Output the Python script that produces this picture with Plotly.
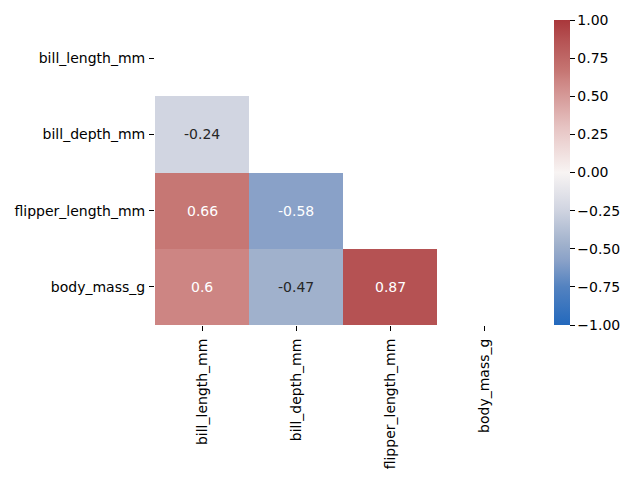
import plotly.graph_objects as go

labels = ["bill_length_mm", "bill_depth_mm", "flipper_length_mm", "body_mass_g"]
corr = [
    [None, None, None, None],
    [-0.24, None, None, None],
    [0.66, -0.58, None, None],
    [0.60, -0.47, 0.87, None],
]
cell_text = [
    [None, None, None, None],
    ["-0.24", None, None, None],
    ["0.66", "-0.58", None, None],
    ["0.6", "-0.47", "0.87", None],
]
cbar_vals = [-1, -0.75, -0.5, -0.25, 0, 0.25, 0.5, 0.75, 1]
cbar_text = ["\u22121.00", "\u22120.75", "\u22120.50", "\u22120.25", "0.00", "0.25", "0.50", "0.75", "1.00"]

colorscale = [
    [0.0, "#2369bd"],
    [0.125, "#5382c0"],
    [0.21, "#89a1c8"],
    [0.265, "#a0b1cc"],
    [0.38, "#d1d5e1"],
    [0.5, "#f8f4f3"],
    [0.65, "#e6c3c2"],
    [0.8, "#cd8583"],
    [0.83, "#c67774"],
    [0.935, "#b55253"],
    [1.0, "#a9373b"],
]

FONT = "DejaVu Sans"
FS = 14
fig = go.Figure(go.Heatmap(
    z=corr, x=labels, y=labels, zmin=-1, zmax=1, colorscale=colorscale,
    xgap=0, ygap=0, hoverongaps=False,
    colorbar=dict(
        x=(554 - 155) / 376, xanchor="left", xpad=0, y=0.5, yanchor="middle",
        len=1, lenmode="fraction", thickness=16, thicknessmode="pixels",
        outlinewidth=0, ticks="outside", ticklen=5, tickwidth=1, tickcolor="black",
        tickvals=cbar_vals, ticktext=cbar_text,
        tickfont=dict(family=FONT, size=FS, color="black"), ypad=0,
    ),
))

ann = []
for i, row in enumerate(corr):
    for j, v in enumerate(row):
        if v is None:
            continue
        col = "white" if abs(v) > 0.5 else "#262626"
        ann.append(dict(x=labels[j], y=labels[i], text=cell_text[i][j], showarrow=False,
                        font=dict(family=FONT, size=FS, color=col)))

fig.update_layout(
    width=640, height=480, margin=dict(l=155, r=109, t=20, b=155),
    plot_bgcolor="white", paper_bgcolor="white",
    annotations=ann,
    xaxis=dict(type="category", categoryorder="array", categoryarray=labels,
               tickangle=-90, ticks="outside", ticklen=5, tickcolor="black",
               showgrid=False, zeroline=False, showline=False, ticklabelstandoff=2,
               tickfont=dict(family=FONT, size=FS, color="black")),
    yaxis=dict(type="category", categoryorder="array", categoryarray=labels,
               autorange="reversed", ticks="outside", ticklen=5, tickcolor="black",
               showgrid=False, zeroline=False, showline=False, ticklabelstandoff=1,
               tickfont=dict(family=FONT, size=FS, color="black")),
)
fig.write_html("out.html")
